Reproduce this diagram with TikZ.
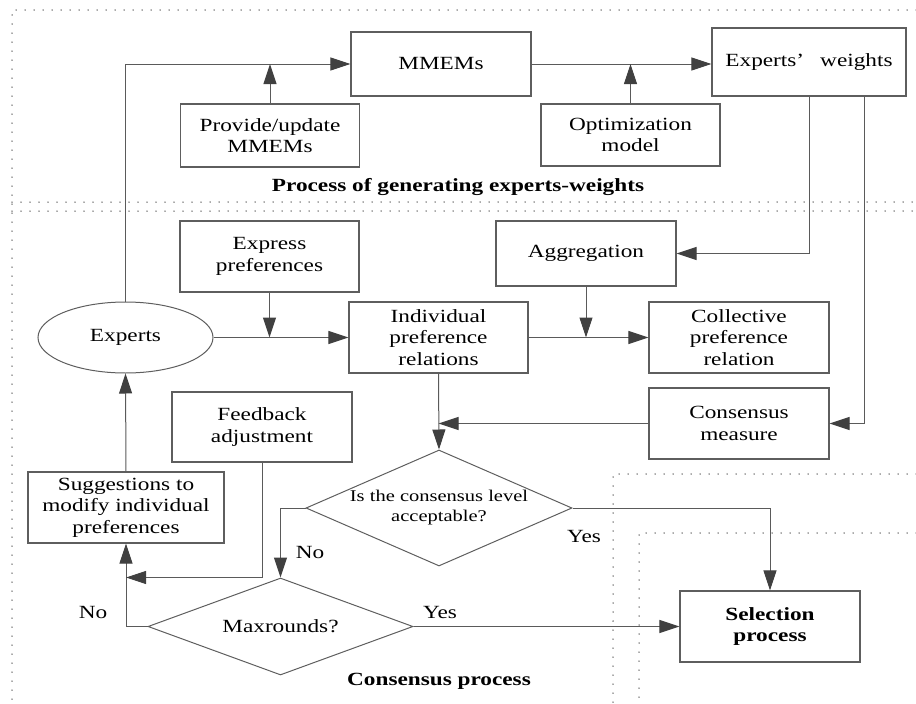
\documentclass[tikz,border=0pt]{standalone}
\usepackage{fontspec}
\setmainfont{Liberation Serif}[FakeStretch=1.25]
\usetikzlibrary{arrows.meta,shapes.geometric}
\definecolor{linegray}{HTML}{5A5A5A}
\definecolor{arrowgray}{HTML}{404040}
\definecolor{boxgray}{HTML}{5E5E5E}
\definecolor{dotgray}{HTML}{505050}
\begin{document}
\begin{tikzpicture}[x=1pt,y=-1pt,
  txt/.style={font=\fontsize{18.6}{21.5}\selectfont, align=center, inner sep=0pt},
  box/.style={txt, draw=boxgray, line width=1.1pt, rectangle},
  dia/.style={draw=boxgray, line width=1pt, diamond, inner sep=0pt, align=center},
  conn/.style={draw=linegray, line width=1pt, -{Triangle[length=20pt,width=13pt,color=arrowgray]}},
  dotline/.style={draw=dotgray, line width=1.5pt, line cap=round, dash pattern=on 0pt off 9pt}]
\useasboundingbox (0,0) rectangle (916,704);

% dotted frames
\draw[dotline] (916,10) -- (12,10) -- (12,700);
\draw[dotline] (12,202) -- (916,202);
\draw[dotline] (12,211) -- (916,211);
\draw[dotline] (916,474) -- (613,474) -- (613,704);
\draw[dotline] (916,533) -- (639,533) -- (639,704);

% top section
\node[box, minimum width=180pt, minimum height=64pt] (mmems) at (441,64) {MMEMs};
\node[box, minimum width=179pt, minimum height=63pt] (provide) at (270,135.5) {Provide/update\\MMEMs};
\node[box, minimum width=179pt, minimum height=62pt] (optim) at (630.5,135) {Optimization\\model};
\node[box, minimum width=194pt, minimum height=68pt] (weights) at (809,62) {Experts’\hspace{16pt}weights};
\node[txt, font=\fontsize{18.6}{21.5}\selectfont\bfseries] (title1) at (458,187) {Process of generating experts-weights};

% consensus section
\node[box, minimum width=179pt, minimum height=71pt] (express) at (269.5,256.5) {Express\\preferences};
\node[txt, draw=boxgray, line width=1pt, ellipse, minimum width=175pt, minimum height=71pt] (experts) at (125.5,337.5) {Experts};
\node[box, minimum width=179pt, minimum height=71pt] (indiv) at (438.5,337.5) {Individual\\preference\\relations};
\node[box, minimum width=180pt, minimum height=65pt] (aggreg) at (586,253.5) {Aggregation};
\node[box, minimum width=180pt, minimum height=71pt] (collect) at (739,337.5) {Collective\\preference\\relation};
\node[box, minimum width=180pt, minimum height=71pt] (cmeasure) at (739,423.5) {Consensus\\measure};
\node[box, minimum width=180pt, minimum height=70pt] (feedback) at (262,427) {Feedback\\adjustment};
\node[box, minimum width=196pt, minimum height=71pt] (sugg) at (126,507.5) {Suggestions to\\modify individual\\preferences};
\node[dia, aspect=2.3, minimum width=266pt, minimum height=116pt,
      font=\fontsize{16.4}{20}\selectfont] (d1) at (439,508) {Is the consensus level\\acceptable?};
\node[dia, aspect=2.73, minimum width=265pt, minimum height=97pt,
      font=\fontsize{18.6}{21.5}\selectfont] (d2) at (280.5,626.5) {Maxrounds?};
\node[box, minimum width=180pt, minimum height=71pt, font=\fontsize{18.6}{21.5}\selectfont\bfseries] (select) at (770,626.5) {Selection\\process};

\node[txt] (no1) at (310,552) {No};
\node[txt] (yes1) at (584,536) {Yes};
\node[txt] (yes2) at (440,612) {Yes};
\node[txt] (no2) at (93,612) {No};
\node[txt, font=\fontsize{18.6}{21.5}\selectfont\bfseries] (title2) at (439,681) {Consensus process};

% connectors
\draw[conn] (experts.north) |- (mmems.west);
\draw[conn] (provide.north) -- (provide.north |- mmems.west);
\draw[conn] (mmems.east) -- (mmems.east -| weights.west);
\draw[conn] (optim.north) -- (optim.north |- mmems.east);
\draw[conn] (weights.south) |- (aggreg.east);
\draw[conn] ([xshift=55pt]weights.south) |- (cmeasure.east);
\draw[conn] (express.south) -- (express.south |- experts.east);
\draw[conn] (experts.east) -- (indiv.west);
\draw[conn] (aggreg.south) -- (aggreg.south |- indiv.east);
\draw[conn] (indiv.east) -- (collect.west);
\draw[conn] (indiv.south) -- (d1.north);
\draw[conn] (cmeasure.west) -- (indiv.south |- cmeasure.west);
\draw[conn] (d1.west) -| (d2.north);
\draw[conn] (d1.east) -| (select.north);
\draw[conn] (d2.east) -- (select.west);
\draw[conn] (d2.west) -| (sugg.south);
\draw[conn] (feedback.south) |- (sugg.south |- d2.north);
\draw[conn] (sugg.north) -- (experts.south);
\end{tikzpicture}
\end{document}
